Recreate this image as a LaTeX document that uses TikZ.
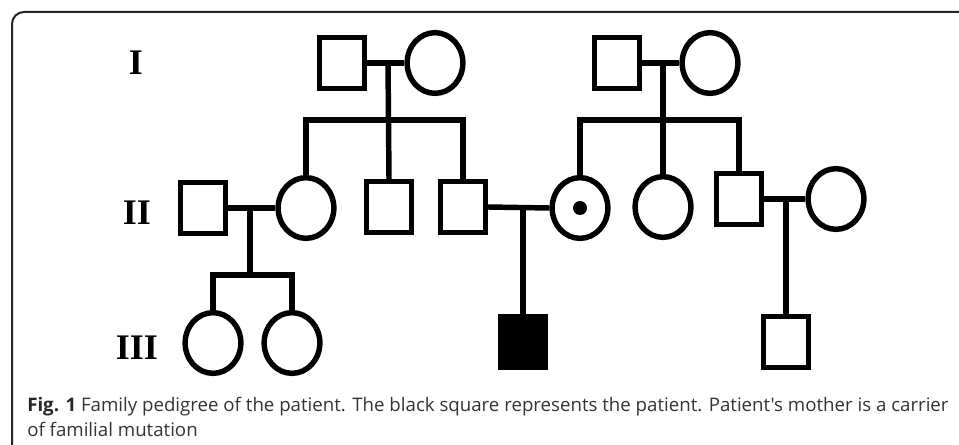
\documentclass[tikz,border=0pt]{standalone}
\usepackage{fontspec}
\setmainfont{Open Sans}[Ligatures=TeXOff]
\newfontfamily\genfont{Liberation Serif}
\usetikzlibrary{shapes.geometric}
\begin{document}
\begin{tikzpicture}[x=0.75pt,y=-0.75pt,
  ped/.style={line width=4.1pt,draw=black,line join=miter},
  male/.style={ped,rectangle,minimum width=33.6pt,minimum height=38pt,inner sep=0pt,fill=white},
  affected/.style={male,fill=black},
  female/.style={ped,ellipse,minimum width=41.8pt,minimum height=45.5pt,inner sep=0pt,fill=white},
  gen/.style={font=\genfont\bfseries\fontsize{27pt}{27pt}\selectfont,inner sep=0pt},
  link/.style={line width=4.1pt,line join=miter},
  captext/.style={anchor=base west,inner sep=0pt,text=black!80,font=\fontsize{14pt}{17pt}\selectfont}]
\useasboundingbox (0,0) rectangle (959,445);
% frame
\draw[line width=1.5pt,draw=black!85,rounded corners=9pt] (12,470) -- (12,12) -- (990,12);
% generation labels
\node[gen] (gI) at (136,63) {I};
\node[gen] (gII) at (137,213) {II};
\node[gen] (gIII) at (137,348) {III};
% generation I
\node[male] (I1) at (342,63) {};
\node[female] (I2) at (435,63) {};
\node[male] (I3) at (617,63) {};
\node[female] (I4) at (710,63) {};
% generation II
\node[male] (II1) at (203,208) {};
\node[female] (II2) at (306,208) {};
\node[male] (II3) at (389,207) {};
\node[male] (II4) at (463,207) {};
\node[female] (II5) at (580,208) {};
\node[female] (II6) at (663,207) {};
\node[male] (II7) at (739,199) {};
\node[female] (II8) at (836,199) {};
\fill (II5.center) circle[radius=5.25pt];
% generation III
\node[female] (III1) at (213,343) {};
\node[female] (III2) at (292,343) {};
\node[affected] (P) at (523,342) {};
\node[male] (III3) at (786,342) {};
% marriages
\draw[link] (I1.east) -- (I2.west);
\draw[link] (I3.east) -- (I4.west);
\draw[link] (II1.east) -- (II2.west);
\draw[link] (II4.east) -- (II5.west);
\draw[link] (II7.east) -- (II8.west);
% descent coordinates
\coordinate (m1) at (388,63);
\coordinate (s1) at (388,120);
\coordinate (m2) at (663,63);
\coordinate (s2) at (663,120);
\coordinate (m3) at (250,208);
\coordinate (s3) at (250,275);
\coordinate (m4) at (523,207);
\coordinate (m5) at (786,199);
% family 1
\draw[link] (m1) -- (II3.north);
\draw[link] (II2.north) -- (II2.north |- s1) -- (II4.north |- s1) -- (II4.north);
% family 2
\draw[link] (m2) -- (II6.north);
\draw[link] (II5.north) -- (II5.north |- s2) -- (II7.north |- s2) -- (II7.north);
% family 3
\draw[link] (m3) -- (s3);
\draw[link] (III1.north) -- (III1.north |- s3) -- (III2.north |- s3) -- (III2.north);
% family 4
\draw[link] (m4) -- (P.north);
% family 5
\draw[link] (m5) -- (III3.north);
% caption
\node[captext] (cap1) at (27,411)
  {\textbf{\color{black!85}Fig. 1} Family pedigree of the patient. The black square represents the patient. Patient's mother is a carrier};
\node[captext] (cap2) at (27,436)
  {of familial mutation};
\end{tikzpicture}
\end{document}
